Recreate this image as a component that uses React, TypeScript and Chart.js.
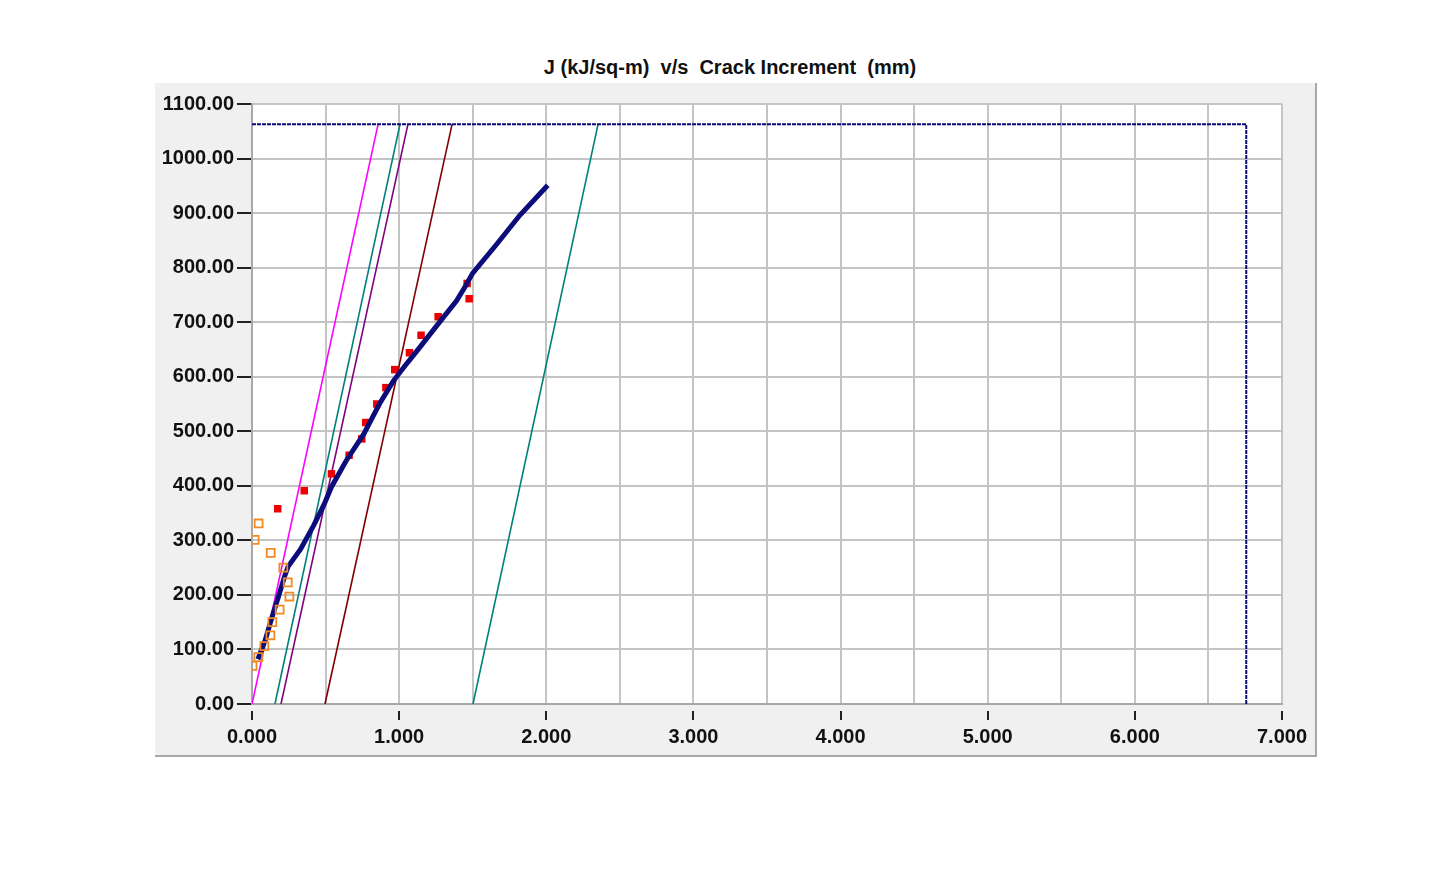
import { useEffect, useRef } from "react"
import { Chart, registerables } from "chart.js"

Chart.register(...registerables)

// J-R curve data
const fitX = [0.04, 0.09, 0.13, 0.18, 0.22, 0.245, 0.33, 0.42, 0.49, 0.54, 0.64, 0.76, 0.87, 0.96, 1.04, 1.12, 1.28, 1.39, 1.45, 1.5, 1.66, 1.82, 2.01]
const fitY = [82, 117, 154, 197, 233, 252, 284, 328, 366, 398, 446, 495, 552, 592, 620, 647, 702, 739, 766, 790, 842, 896, 951]

const validX = [0.175, 0.355, 0.54, 0.66, 0.746, 0.773, 0.848, 0.91, 0.97, 1.07, 1.149, 1.265, 1.462, 1.476]
const validY = [358, 391, 422, 456, 486, 516, 550, 580, 613, 644, 676, 710, 771, 743]

const excludedX = [0.004, 0.043, 0.084, 0.125, 0.138, 0.188, 0.254, 0.243, 0.213, 0.127, 0.018, 0.045]
const excludedY = [70, 86, 106, 126, 150, 173, 197, 223, 250, 277, 301, 331]

// construction lines: bottom (J = 0) and top (J = Jmax) crack increments
const lineNames = ["Blunting", "0.15 offset", "0.2 offset", "0.5 offset", "1.5 offset"]
const lineBottomX = [0, 0.156, 0.197, 0.496, 1.502]
const lineTopX = [0.857, 1.006, 1.06, 1.36, 2.352]
const lineColors = ["#ff00ff", "#00807a", "#800080", "#800000", "#00807a"]

const jLimit = 1063
const daLimit = 6.757

const xTicks = [0, 1, 2, 3, 4, 5, 6, 7]

const font = "'Liberation Sans', Arial, sans-serif"

const isWhole = (v: number) => Math.abs(v - Math.round(v)) < 1e-6

export default function App() {
  const chartRef = useRef<HTMLCanvasElement>(null)
  const chartInstance = useRef<Chart | null>(null)

  useEffect(() => {
    if (!chartRef.current) return
    const ctx = chartRef.current.getContext("2d")
    if (!ctx) return
    if (chartInstance.current) chartInstance.current.destroy()

    const areaBackground = {
      id: "areaBackground",
      beforeDraw(chart: Chart) {
        const { ctx, chartArea } = chart
        ctx.save()
        ctx.fillStyle = "#ffffff"
        ctx.fillRect(chartArea.left, chartArea.top, chartArea.width, chartArea.height)
        ctx.restore()
      },
    }

    const construction = lineNames.map((name, i) => ({
      label: name,
      data: [
        { x: lineBottomX[i], y: 0 },
        { x: lineTopX[i], y: jLimit },
      ],
      showLine: true,
      borderColor: lineColors[i],
      borderWidth: 1.6,
      pointRadius: 0,
      order: 5,
    }))

    chartInstance.current = new Chart(ctx, {
      type: "scatter",
      data: {
        datasets: [
          {
            label: "Excluded",
            data: excludedX.map((x, i) => ({ x, y: excludedY[i] })),
            pointStyle: "rect",
            pointRadius: 5.6,
            borderColor: "#f08a24",
            backgroundColor: "rgba(255,255,255,0)",
            borderWidth: 1.8,
            order: 1,
          },
          {
            label: "Fit",
            data: fitX.map((x, i) => ({ x, y: fitY[i] })),
            showLine: true,
            borderColor: "#0c0c7a",
            borderWidth: 5,
            pointRadius: 0,
            order: 2,
          },
          {
            label: "Valid",
            data: validX.map((x, i) => ({ x, y: validY[i] })),
            pointStyle: "rect",
            pointRadius: 5.3,
            borderColor: "#ee0000",
            backgroundColor: "#ee0000",
            borderWidth: 0,
            order: 3,
          },
          {
            label: "Limits",
            data: [
              { x: 0, y: jLimit },
              { x: daLimit, y: jLimit },
              { x: daLimit, y: 0 },
            ],
            showLine: true,
            borderColor: "#0a0a78",
            borderWidth: 2,
            borderDash: [4, 1],
            pointRadius: 0,
            order: 4,
          },
          ...construction,
        ],
      },
      options: {
        animation: false,
        responsive: false,
        layout: { padding: { top: 21, right: 33, left: 0, bottom: 0 } },
        plugins: {
          legend: { display: false },
          tooltip: { enabled: false },
          title: { display: false },
        },
        scales: {
          x: {
            type: "linear",
            min: 0,
            max: 7,
            afterFit: (scale: any) => {
              scale.height = 51
            },
            afterBuildTicks: (scale: any) => {
              const all = xTicks.flatMap((v) => (v < 7 ? [v, v + 0.5] : [v]))
              scale.ticks = all.map((v) => ({ value: v }))
            },
            ticks: {
              autoSkip: false,
              maxRotation: 0,
              padding: 5,
              color: "#111",
              font: { family: font, size: 20, weight: "bold" },
              callback: (v: any) => (isWhole(Number(v)) ? Number(v).toFixed(3) : ""),
            },
            grid: {
              color: "#c4c4c4",
              lineWidth: 2,
              tickLength: 16,
              tickWidth: 2,
              tickBorderDash: [0, 6, 10, 60],
              tickColor: (c: any) => (c.tick && isWhole(c.tick.value) ? "#222" : "rgba(0,0,0,0)"),
            },
            border: { color: "#a8a8a8", width: 2 },
          },
          y: {
            type: "linear",
            min: 0,
            max: 1100,
            afterFit: (scale: any) => {
              scale.width = 97
            },
            ticks: {
              stepSize: 100,
              padding: 3,
              color: "#111",
              font: { family: font, size: 20, weight: "bold" },
              callback: (v: any) => Number(v).toFixed(2),
            },
            grid: {
              color: "#c4c4c4",
              lineWidth: 2,
              tickLength: 15,
              tickWidth: 2,
              tickColor: "#222",
            },
            border: { color: "#a8a8a8", width: 2 },
          },
        },
      },
      plugins: [areaBackground],
    } as any)

    return () => {
      if (chartInstance.current) {
        chartInstance.current.destroy()
        chartInstance.current = null
      }
    }
  }, [])

  return (
    <div style={{ position: "fixed", left: 0, top: 0, width: 1446, height: 896, background: "#fff" }}>
      <div
        style={{
          position: "absolute",
          left: 155,
          width: 1150,
          top: 56,
          textAlign: "center",
          whiteSpace: "pre",
          fontFamily: font,
          fontWeight: "bold",
          fontSize: 20,
          color: "#111",
        }}
      >
        {"J (kJ/sq-m)  v/s  Crack Increment  (mm)"}
      </div>
      <div
        style={{
          position: "absolute",
          left: 155,
          top: 83,
          width: 1160,
          height: 672,
          background: "#f0f0f0",
          borderRight: "2px solid #a8a8a8",
          borderBottom: "2px solid #a8a8a8",
        }}
      >
        <canvas ref={chartRef} width={1160} height={672} style={{ position: "absolute", left: 0, top: 0 }} />
      </div>
    </div>
  )
}
